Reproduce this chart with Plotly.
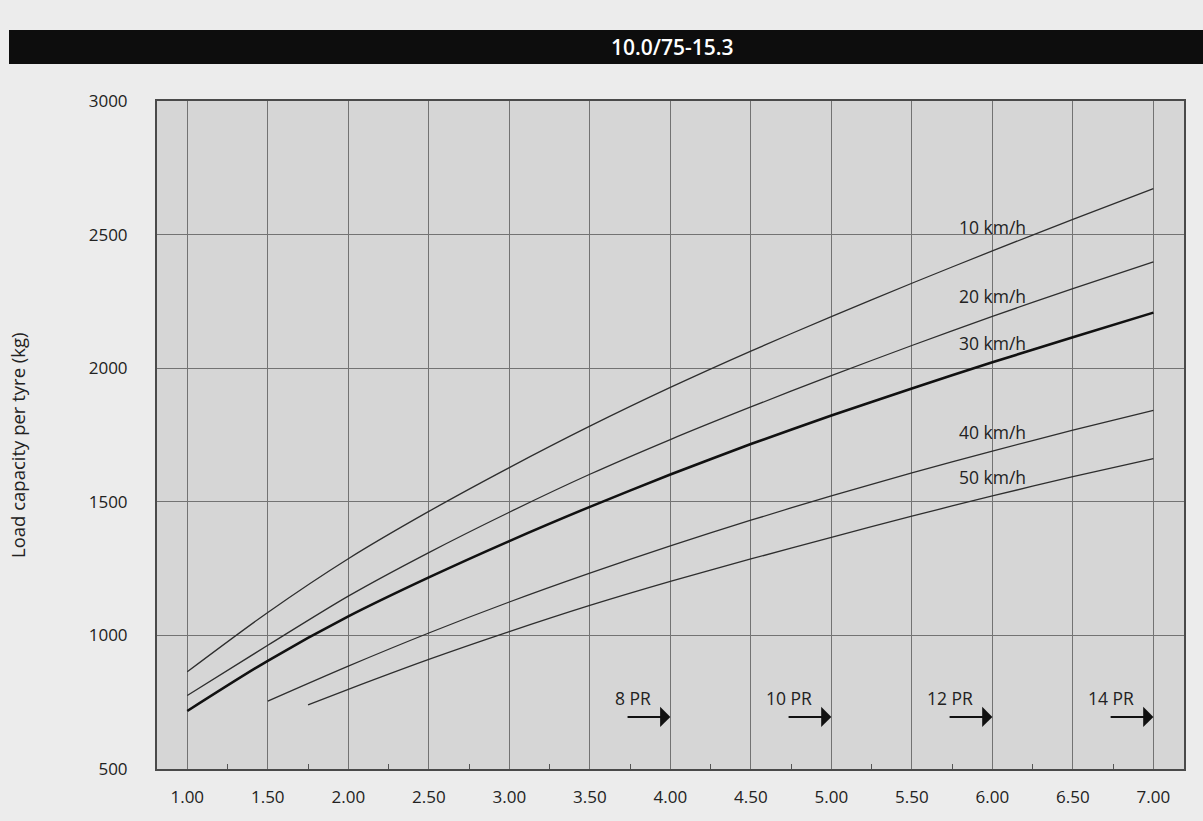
import plotly.graph_objects as go

# ---------------- data ----------------
inflation_bar = [1.00, 1.50, 2.00, 2.50, 3.00, 3.50, 4.00, 4.50, 5.00, 5.50, 6.00, 6.50, 7.00]
load_10 = [864, 1086, 1287, 1464, 1628, 1783, 1928, 2064, 2193, 2318, 2439, 2557, 2672]
load_20 = [775, 963, 1147, 1310, 1461, 1603, 1733, 1855, 1972, 2085, 2194, 2298, 2398]
load_30 = [717, 905, 1071, 1217, 1353, 1481, 1602, 1716, 1823, 1924, 2022, 2116, 2208]
inflation_40 = [1.50, 2.00, 2.50, 3.00, 3.50, 4.00, 4.50, 5.00, 5.50, 6.00, 6.50, 7.00]
load_40 = [754, 885, 1009, 1125, 1233, 1335, 1431, 1522, 1608, 1690, 1768, 1842]
inflation_50 = [1.75, 2.00, 2.50, 3.00, 3.50, 4.00, 4.50, 5.00, 5.50, 6.00, 6.50, 7.00]
load_50 = [740, 798, 910, 1014, 1112, 1202, 1286, 1367, 1446, 1522, 1594, 1662]

speed_labels = ["10 km/h", "20 km/h", "30 km/h", "40 km/h", "50 km/h"]
speed_label_y = [2529, 2270, 2095, 1763, 1592]
speed_label_x = 6.0

ply_labels = ["8 PR", "10 PR", "12 PR", "14 PR"]
ply_x = [4.0, 5.0, 6.0, 7.0]

x_ticks = [1.0, 1.5, 2.0, 2.5, 3.0, 3.5, 4.0, 4.5, 5.0, 5.5, 6.0, 6.5, 7.0]
x_ticktext = ["1.00", "1.50", "2.00", "2.50", "3.00", "3.50", "4.00", "4.50",
              "5.00", "5.50", "6.00", "6.50", "7.00"]
y_ticks = [500, 1000, 1500, 2000, 2500, 3000]

title_text = "10.0/75-15.3"
y_title = "Load capacity per tyre (kg)"

# ---------------- layout geometry ----------------
W, H = 1203, 821
L, R, T, B = 157, 1184, 101, 769
FONT = "Open Sans"
BG = "#ececec"


def px_x(p):
    return (p - L) / (R - L)


def px_y(p):
    return (B - p) / (B - T)


fig = go.Figure()

thin = dict(color="#2e2e2e", width=1.3)
series = [
    (inflation_bar, load_10, thin),
    (inflation_bar, load_20, thin),
    (inflation_bar, load_30, dict(color="#111111", width=2.6)),
    (inflation_40, load_40, thin),
    (inflation_50, load_50, thin),
]
for xs, ys, ln in series:
    fig.add_trace(go.Scatter(x=xs, y=ys, mode="lines",
                             line=dict(shape="spline", smoothing=0.8, **ln),
                             hoverinfo="skip", showlegend=False))

annotations = []
for lab, yv in zip(speed_labels, speed_label_y):
    annotations.append(dict(x=speed_label_x, y=yv, xref="x", yref="y", text=lab,
                            showarrow=False, xanchor="center", yanchor="middle",
                            font=dict(family=FONT, size=17.5, color="#222222")))

arrow_y = 695
text_y = 765
for lab, xt in zip(ply_labels, ply_x):
    annotations.append(dict(x=xt - 0.11, y=text_y, xref="x", yref="y", text=lab,
                            showarrow=False, xanchor="right", yanchor="middle",
                            font=dict(family=FONT, size=17.5, color="#222222")))
    annotations.append(dict(x=xt, y=arrow_y, xref="x", yref="y", text="",
                            ax=xt - 0.275, ay=arrow_y, axref="x", ayref="y",
                            showarrow=True, arrowhead=1, arrowsize=1.7,
                            arrowwidth=2, arrowcolor="#111111", standoff=0,
                            startstandoff=0))

# y axis title
annotations.append(dict(x=px_x(17), y=px_y(445), xref="paper", yref="paper",
                        text=y_title, textangle=-90, showarrow=False,
                        xanchor="center", yanchor="middle",
                        font=dict(family=FONT, size=18.5, color="#222222")))
# header text
annotations.append(dict(x=px_x(672), y=px_y(47), xref="paper", yref="paper",
                        text=title_text, showarrow=False, xanchor="center",
                        yanchor="middle",
                        font=dict(family=FONT, size=21, color="#ffffff", weight=600)))

shapes = [dict(type="rect", xref="paper", yref="paper",
               x0=px_x(9), x1=px_x(1210), y0=px_y(64), y1=px_y(30),
               fillcolor="#0d0d0d", line=dict(width=0), layer="below")]

fig.update_layout(
    width=W, height=H,
    template="none",
    margin=dict(l=L, r=W - R, t=T, b=H - B, pad=0),
    paper_bgcolor=BG,
    plot_bgcolor="#d6d6d6",
    showlegend=False,
    annotations=annotations,
    shapes=shapes,
    xaxis=dict(range=[0.812, 7.19], tickmode="array", tickvals=x_ticks,
               ticktext=x_ticktext, ticks="", showgrid=True,
               gridcolor="#737373", gridwidth=1, showline=True, mirror=True,
               linecolor="#4a4a4a", linewidth=2, zeroline=False,
               ticklabelstandoff=12, automargin=False,
               tickfont=dict(family=FONT, size=17, color="#222222"),
               minor=dict(tick0=0.25, dtick=0.5, ticks="inside", ticklen=5,
                          tickwidth=1, tickcolor="#555555", showgrid=False)),
    yaxis=dict(range=[500, 3000], tickmode="array", tickvals=y_ticks,
               ticks="", showgrid=True, gridcolor="#737373", gridwidth=1,
               showline=True, mirror=True, linecolor="#4a4a4a", linewidth=2,
               zeroline=False, ticklabelstandoff=24, automargin=False,
               tickfont=dict(family=FONT, size=17, color="#222222")),
)

fig.write_html(
    "out.html",
    config={"displayModeBar": False},
    post_script="document.body.style.margin='0';document.body.style.background='" + BG + "';",
)
